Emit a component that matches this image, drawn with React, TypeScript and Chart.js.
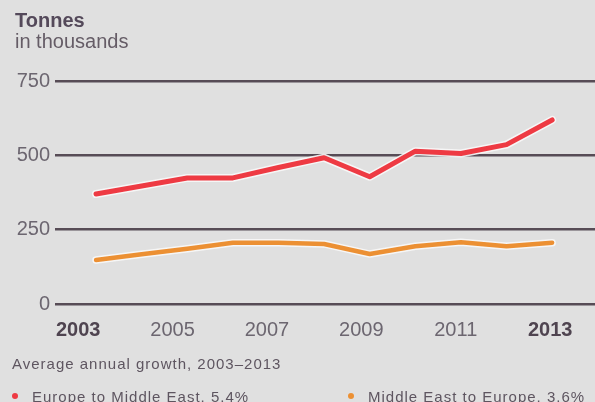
import React, { useEffect, useRef } from "react";
import { Chart, registerables } from "chart.js";

Chart.register(...registerables);

const years = [2003, 2004, 2005, 2006, 2007, 2008, 2009, 2010, 2011, 2012, 2013];
const europeToMiddleEast = [370, 397, 424, 424, 459, 492, 428, 514, 506, 536, 619];
const middleEastToEurope = [148, 167, 186, 206, 206, 202, 168, 194, 208, 194, 206];
const xTickYears = [2003, 2005, 2007, 2009, 2011, 2013];
const boldYears = [2003, 2013];
const yTicks = [0, 250, 500, 750];

const FONT = "'Liberation Sans', Arial, Helvetica, sans-serif";
const TEXT = "#5e5560";
const TICK = "#6c6670";
const RED = "#ee3a43";
const ORANGE = "#ec9033";

export default function App() {
  const ref = useRef<HTMLCanvasElement | null>(null);

  useEffect(() => {
    document.body.style.margin = "0";
    const canvas = ref.current;
    if (!canvas) return;
    const redPts = years.map((y, i) => ({ x: y, y: europeToMiddleEast[i] }));
    const orPts = years.map((y, i) => ({ x: y, y: middleEastToEurope[i] }));
    const line = (data: any, color: string, width: number, order: number) => ({
      data,
      borderColor: color,
      borderWidth: width,
      pointRadius: 0,
      borderCapStyle: "round",
      borderJoinStyle: "round",
      xAxisID: "x",
      yAxisID: "y",
      order,
    });
    const chart = new Chart(canvas, {
      type: "line",
      data: {
        datasets: [
          line(redPts, RED, 5, 0),
          line(orPts, ORANGE, 4.5, 0),
          line(redPts, "rgba(248,248,248,0.9)", 8, 1),
          line(orPts, "rgba(248,248,248,0.9)", 7.5, 1),
        ] as any,
      },
      options: {
        animation: false,
        responsive: false,
        maintainAspectRatio: false,
        layout: { padding: { top: 81, left: 0, right: 0, bottom: 0 } },
        plugins: { legend: { display: false }, tooltip: { enabled: false } },
        scales: {
          x: {
            type: "linear",
            display: false,
            min: 2002.1,
            max: 2013.94,
          },
          x2: {
            type: "linear",
            position: "bottom",
            min: 2002.51,
            max: 2013.95,
            grid: { display: false, drawTicks: false },
            border: { display: false },
            afterBuildTicks: (axis: any) => {
              axis.ticks = xTickYears.map((v) => ({ value: v }));
            },
            afterFit: (axis: any) => {
              axis.height = 98;
            },
            ticks: {
              autoSkip: false,
              maxRotation: 0,
              padding: 14,
              callback: (v: any) => String(v),
              color: (ctx: any) => (boldYears.includes(ctx.tick?.value) ? "#4f4450" : TICK),
              font: (ctx: any) => ({
                family: FONT,
                size: 20,
                weight: boldYears.includes(ctx.tick?.value) ? "bold" : "normal",
              }),
            },
          },
          y: {
            type: "linear",
            min: 0,
            max: 750,
            afterBuildTicks: (axis: any) => {
              axis.ticks = yTicks.map((v) => ({ value: v }));
            },
            afterFit: (axis: any) => {
              axis.width = 55;
            },
            grid: { color: "#574c56", lineWidth: 2.4, drawTicks: false },
            border: { display: false },
            ticks: {
              padding: 5,
              color: TICK,
              font: { family: FONT, size: 20 },
              callback: (v: any) => String(v),
            },
          },
        },
      },
    });
    return () => chart.destroy();
  }, []);

  const textStyle: React.CSSProperties = {
    position: "absolute",
    fontFamily: FONT,
    color: TEXT,
    whiteSpace: "nowrap",
  };

  return (
    <div
      style={{
        position: "relative",
        width: 595,
        height: 402,
        overflow: "hidden",
        background: "#e0e0e0",
      }}
    >
      <canvas ref={ref} width={595} height={402} style={{ position: "absolute", left: 0, top: 0 }} />
      <div style={{ ...textStyle, left: 15, top: 10, fontSize: 20, lineHeight: "20px", fontWeight: "bold", color: "#54495a" }}>
        Tonnes
      </div>
      <div style={{ ...textStyle, left: 15, top: 31, fontSize: 20, lineHeight: "20px", color: "#655c66" }}>in thousands</div>
      <div style={{ ...textStyle, left: 12, top: 356, fontSize: 15, lineHeight: "15px", letterSpacing: 1 }}>
        Average annual growth, 2003–2013
      </div>
      <div style={{ position: "absolute", left: 12, top: 393, width: 6, height: 6, borderRadius: 3, background: RED }} />
      <div style={{ ...textStyle, left: 32, top: 389, fontSize: 15, lineHeight: "15px", letterSpacing: 1 }}>
        Europe to Middle East, 5.4%
      </div>
      <div style={{ position: "absolute", left: 348, top: 393, width: 6, height: 6, borderRadius: 3, background: ORANGE }} />
      <div style={{ ...textStyle, left: 368, top: 389, fontSize: 15, lineHeight: "15px", letterSpacing: 1 }}>
        Middle East to Europe, 3.6%
      </div>
    </div>
  );
}
